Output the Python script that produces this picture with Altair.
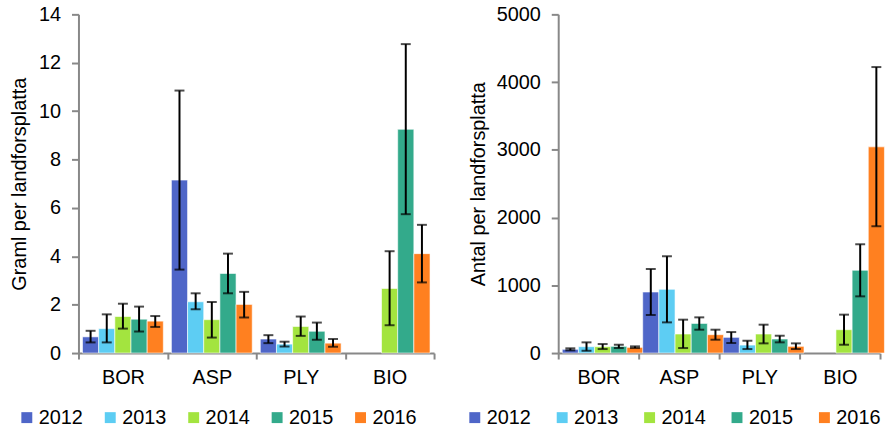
import altair as alt
import pandas as pd

# Sites and sampling years
sites = ["BOR", "ASP", "PLY", "BIO"]
years = ["2012", "2013", "2014", "2015", "2016"]
colors = ["#4F66C8", "#5DCDF3", "#A3E43F", "#33AA8B", "#FF8020"]

# Biomass (gram per plot): mean, lower and upper error limits, per site in year order
gram_mean = {
    "BOR": [0.67, 1.01, 1.51, 1.40, 1.32],
    "ASP": [7.15, 2.12, 1.38, 3.29, 2.01],
    "PLY": [0.58, 0.37, 1.10, 0.90, 0.41],
    "BIO": [None, None, 2.67, 9.25, 4.11],
}
gram_low = {
    "BOR": [0.44, 0.44, 1.01, 0.89, 1.08],
    "ASP": [3.45, 1.81, 0.64, 2.47, 1.47],
    "PLY": [0.41, 0.27, 0.71, 0.55, 0.26],
    "BIO": [None, None, 1.15, 5.74, 2.92],
}
gram_high = {
    "BOR": [0.92, 1.60, 2.04, 1.92, 1.53],
    "ASP": [10.85, 2.47, 2.11, 4.11, 2.53],
    "PLY": [0.74, 0.47, 1.51, 1.26, 0.58],
    "BIO": [None, None, 4.21, 12.77, 5.30],
}

# Abundance (count per plot)
count_mean = {
    "BOR": [55, 94, 94, 99, 84],
    "ASP": [901, 941, 281, 438, 271],
    "PLY": [232, 118, 281, 207, 99],
    "BIO": [None, None, 345, 1222, 3044],
}
count_low = {
    "BOR": [40, 34, 59, 74, 74],
    "ASP": [562, 453, 74, 345, 197],
    "PLY": [148, 59, 143, 158, 59],
    "BIO": [None, None, 123, 837, 1872],
}
count_high = {
    "BOR": [70, 158, 133, 123, 99],
    "ASP": [1241, 1429, 493, 527, 345],
    "PLY": [310, 182, 419, 256, 143],
    "BIO": [None, None, 567, 1606, 4222],
}

FONT = "Liberation Sans"
FS = 20
AXIS_GREY = "#888888"


def table(mean, low, high):
    rows = []
    for s in sites:
        for i, y in enumerate(years):
            if mean[s][i] is None:
                continue
            rows.append({"site": s, "year": y, "mean": mean[s][i],
                         "low": low[s][i], "high": high[s][i]})
    return pd.DataFrame(rows)


def panel(df, title, ymax, ystep, width, height, legend_x, col_pad, title_pad):
    x = alt.X("site:N", sort=sites, title=None,
              scale=alt.Scale(paddingInner=0, paddingOuter=0),
              axis=alt.Axis(labelAngle=0, tickBand="extent", labelFont=FONT,
                            labelFontSize=FS, labelColor="#000000",
                            labelPadding=9, tickSize=6, tickWidth=2,
                            tickColor=AXIS_GREY, domainColor=AXIS_GREY,
                            domainWidth=2))
    xo = alt.XOffset("year:N", sort=years,
                     scale=alt.Scale(domain=years, paddingOuter=0.25,
                                     paddingInner=0))
    y_scale = alt.Scale(domain=[0, ymax], nice=False)
    color = alt.Color("year:N", sort=years,
                      scale=alt.Scale(domain=years, range=colors),
                      legend=alt.Legend(title=None, orient="none",
                                        direction="horizontal",
                                        legendX=legend_x, legendY=height + 55,
                                        symbolType="square", symbolSize=121,
                                        symbolStrokeWidth=0, labelFont=FONT,
                                        labelFontSize=FS, labelColor="#000000",
                                        labelOffset=2, columnPadding=col_pad,
                                        padding=0))
    bars = alt.Chart(df).mark_bar(stroke="#FFFFFF", strokeOpacity=0.6,
                                  strokeWidth=1).encode(
        x=x, xOffset=xo,
        y=alt.Y("mean:Q", scale=y_scale, title=title,
                axis=alt.Axis(values=list(range(0, ymax + 1, ystep)),
                              format="d", grid=False, labelFont=FONT,
                              labelFontSize=FS, labelColor="#000000",
                              labelPadding=11, tickSize=7, tickWidth=2,
                              tickColor=AXIS_GREY, domainColor=AXIS_GREY,
                              domainWidth=2, titleFont=FONT,
                              titleFontSize=FS, titleFontWeight="normal",
                              titleColor="#000000", titlePadding=title_pad)),
        color=color,
    )
    whisker = alt.Chart(df).mark_rule(color="#000000", strokeWidth=2).encode(
        x=x, xOffset=xo, y=alt.Y("low:Q", scale=y_scale), y2="high:Q")
    cap_low = alt.Chart(df).mark_tick(color="#000000", thickness=2, size=10,
                                      orient="horizontal").encode(
        x=x, xOffset=xo, y=alt.Y("low:Q", scale=y_scale))
    cap_high = alt.Chart(df).mark_tick(color="#000000", thickness=2, size=10,
                                       orient="horizontal").encode(
        x=x, xOffset=xo, y=alt.Y("high:Q", scale=y_scale))
    return alt.layer(bars, whisker, cap_low, cap_high).properties(
        width=width, height=height)


gram_df = table(gram_mean, gram_low, gram_high)
count_df = table(count_mean, count_low, count_high)

left = panel(gram_df, "Graml per landforsplatta", 14, 2, 358, 341, -62, 17, 9)
right = panel(count_df, "Antal per landforsplatta", 5000, 1000, 324, 341, -94, 21, 8)

chart = alt.hconcat(left, right, spacing=30).resolve_scale(
    color="independent").properties(
    padding={"left": 9, "top": 3, "right": 0, "bottom": 0},
    background="#FFFFFF",
).configure_view(stroke=None)

chart.save("out.html", embed_options={"renderer": "svg", "actions": False})
